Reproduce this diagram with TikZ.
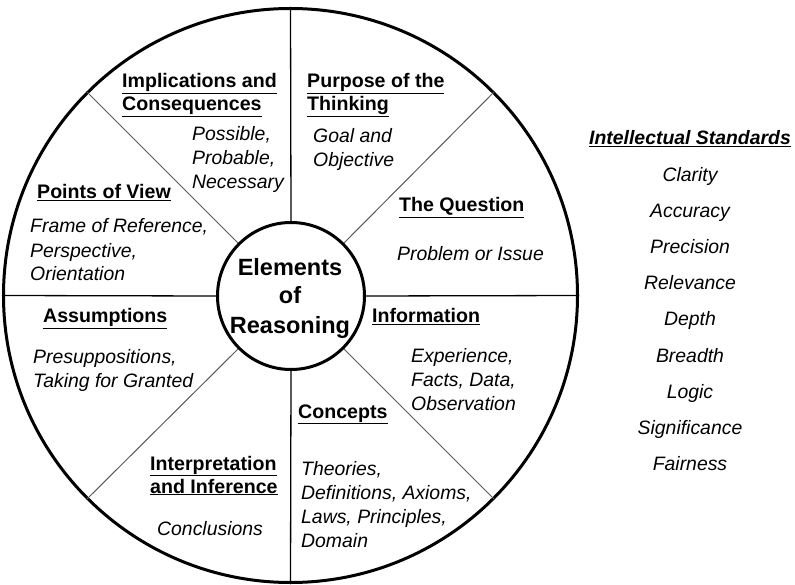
\documentclass[tikz,border=0pt]{standalone}
\usepackage{fontspec}
\setmainfont{Liberation Sans}
\usepackage{tikz}

\newcommand{\ulh}[1]{\underline{#1}}

\begin{document}
\begin{tikzpicture}[x=1pt, y=-1pt]
    % Styles
    \tikzstyle{rimring} = [circle, draw=black, line width=3pt, minimum size=574pt, inner sep=0pt]
    \tikzstyle{corering} = [circle, draw=black, line width=3pt, minimum size=147pt, inner sep=0pt, fill=white]
    \tikzstyle{axis} = [black, line width=1.3pt]
    \tikzstyle{spoke} = [black!65, line width=1pt]
    \tikzstyle{head} = [anchor=base west, inner sep=0pt, align=left, font=\fontsize{19.6}{23}\selectfont\bfseries]
    \tikzstyle{body} = [anchor=base west, inner sep=0pt, align=left, font=\fontsize{19.4}{24}\selectfont\itshape]
    \tikzstyle{std} = [anchor=base, inner sep=0pt, font=\fontsize{19.4}{24}\selectfont\itshape]

    \useasboundingbox (0,0) rectangle (795,585);

    % Wheel
    \node[rimring] (rim) at (290.5, 295.5) {};
    \node[corering] (core) at (291, 296) {};
    \node[align=center, inner sep=0pt, anchor=base, font=\fontsize{23.5}{29}\selectfont\bfseries] (title) at (290, 333) {Elements\\of\\Reasoning};

    % Spokes
    \draw[axis] (core.north) -- (rim.north);
    \draw[axis] (core.south) -- (rim.south);
    \draw[axis] (core.west) -- (rim.west);
    \draw[axis] (core.east) -- (rim.east);
    \draw[spoke] (core.45) -- (rim.45);
    \draw[spoke] (core.135) -- (rim.135);
    \draw[spoke] (core.225) -- (rim.225);
    \draw[spoke] (core.315) -- (rim.315);

    % Segments (anchored on the last line)
    \node[head] (implH) at (122, 111) {\ulh{Implications and}\\\ulh{Consequences}};
    \node[body] (implB) at (192, 189) {Possible,\\Probable,\\Necessary};

    \node[head] (purpH) at (307, 111) {\ulh{Purpose of the}\\\ulh{Thinking}};
    \node[body] (purpB) at (313, 167) {Goal and\\Objective};

    \node[head] (viewH) at (37, 199) {\ulh{Points of View}};
    \node[body] (viewB) at (30, 281) {Frame of Reference,\\Perspective,\\Orientation};

    \node[head] (questH) at (399, 212) {\ulh{The Question}};
    \node[body] (questB) at (397, 261) {Problem or Issue};

    \node[head] (assumH) at (43, 323) {\ulh{Assumptions}};
    \node[body] (assumB) at (33, 387) {Presuppositions,\\Taking for Granted};

    \node[head] (infoH) at (372, 323) {\ulh{Information}};
    \node[body] (infoB) at (411, 410) {Experience,\\Facts, Data,\\Observation};

    \node[head] (concH) at (298, 418) {\ulh{Concepts}};
    \node[body] (concB) at (301, 547) {Theories,\\Definitions, Axioms,\\Laws, Principles,\\Domain};

    \node[head] (interH) at (150, 493) {\ulh{Interpretation}\\\ulh{and Inference}};
    \node[body] (interB) at (157, 535) {Conclusions};

    % Standards list
    \node[std, font=\fontsize{19.4}{24}\selectfont\bfseries\itshape] (stdH) at (690, 145) {\ulh{Intellectual\ Standards}};
    \foreach \s [count=\i from 0] in {Clarity, Accuracy, Precision, Relevance, Depth, Breadth, Logic, Significance, Fairness}
        \node[std] (std\i) at (690, 182+36*\i) {\s};
\end{tikzpicture}
\end{document}
